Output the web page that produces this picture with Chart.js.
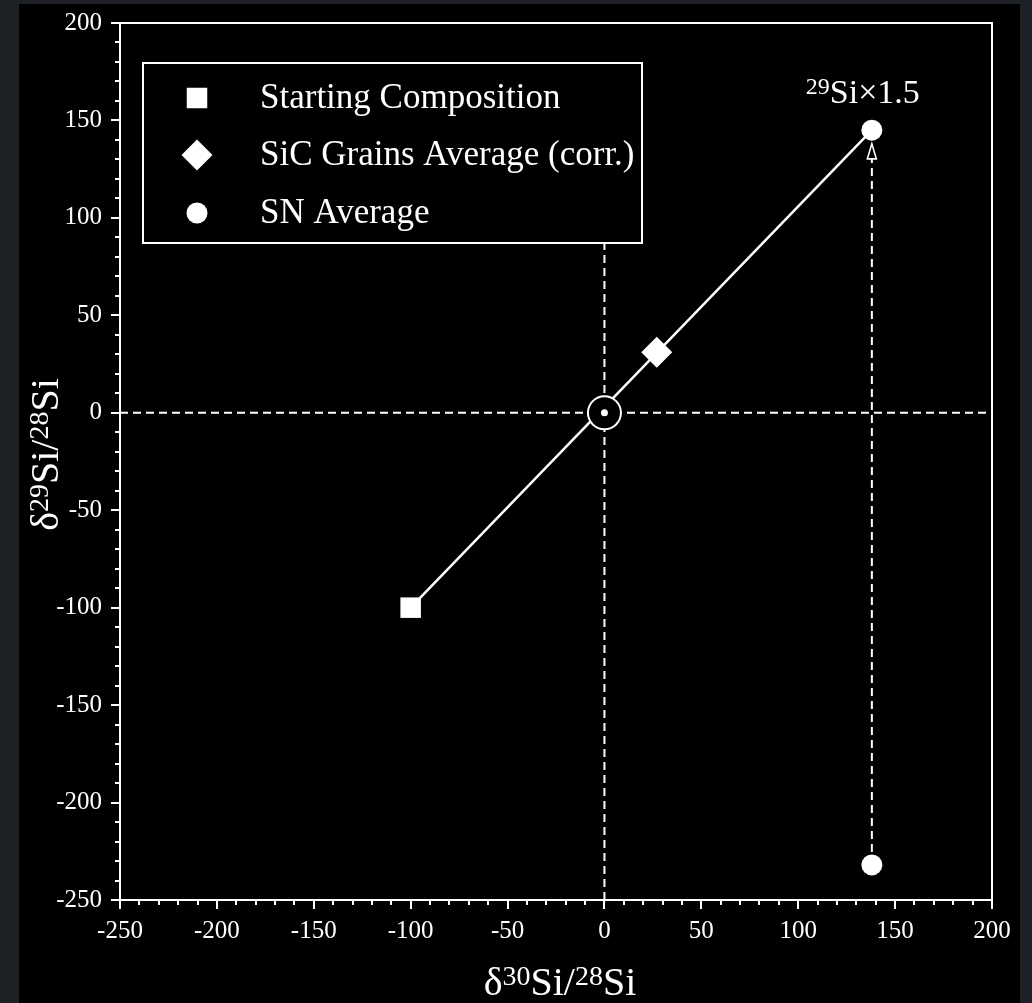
<!DOCTYPE html>
<html>
<head>
<meta charset="utf-8">
<script src="https://cdn.jsdelivr.net/npm/chart.js@4.4.1/dist/chart.umd.min.js"></script>
<style>
  html, body { margin: 0; padding: 0; background: #1e2227; overflow: hidden; }
  #frame { position: absolute; left: 19px; top: 4px; width: 1001px; height: 999px; background: #000; }
  #wrap { position: absolute; left: 0; top: -10px; width: 1032px; height: 1013px; }
</style>
</head>
<body>
<div id="frame"></div>
<div id="wrap"><canvas id="chart" width="1032" height="1013"></canvas></div>
<script>
// data (delta values, per mil)
const seriesNames = ['Starting Composition', 'SiC Grains Average (corr.)', 'SN Average'];
const startingPt = [-100, -100];
const sicPt = [27, 31];
const snPts = [[138, 145], [138, -232]];
const originPt = [0, 0];
const mixLine = [[-100, -100], [138, 145]];
const zeroLineH = [[-250, 0], [200, 0]];
const zeroLineV = [[0, -250], [0, 87]];
const snDropLine = [[138, -232], [138, 131]];
const arrowTip = [138, 138];
const axisMin = -250, axisMax = 200, majorStep = 50, minorStep = 10;
const snLabel = { sup: '29', text: 'Si\u00d71.5', at: [138, 159] };

const FONT = "'Liberation Serif', 'Times New Roman', serif";
const WHITE = '#ffffff';

const pts = arr => arr.map(p => ({ x: p[0], y: p[1] }));

// text with superscript pieces, parts = [[str, isSup], ...]
function drawSupText(ctx, parts, x, y, size, align) {
    const supSize = Math.round(size * 0.7);
    let total = 0;
    const widths = parts.map(p => {
        ctx.font = (p[1] ? supSize : size) + 'px ' + FONT;
        const w = ctx.measureText(p[0]).width;
        total += w;
        return w;
    });
    let cx = align === 'center' ? x - total / 2 : x;
    ctx.textAlign = 'left';
    ctx.textBaseline = 'alphabetic';
    parts.forEach((p, i) => {
        ctx.font = (p[1] ? supSize : size) + 'px ' + FONT;
        ctx.fillText(p[0], cx, p[1] ? y - size * 0.26 : y);
        cx += widths[i];
    });
}

const decorPlugin = {
    id: 'decor',
    afterDatasetsDraw(chart) {
        const ctx = chart.ctx;
        const a = chart.chartArea;
        const xs = chart.scales.x, ys = chart.scales.y;
        ctx.save();
        ctx.strokeStyle = WHITE;
        ctx.fillStyle = WHITE;
        ctx.lineWidth = 2;

        // frame
        ctx.strokeRect(a.left, a.top, a.right - a.left, a.bottom - a.top);

        // ticks, major and minor, outward
        ctx.beginPath();
        for (let v = axisMin; v <= axisMax; v += minorStep) {
            const len = v % majorStep === 0 ? 9 : 5;
            const px = Math.round(xs.getPixelForValue(v));
            ctx.moveTo(px, a.bottom);
            ctx.lineTo(px, a.bottom + len);
            const py = Math.round(ys.getPixelForValue(v));
            ctx.moveTo(a.left, py);
            ctx.lineTo(a.left - len, py);
        }
        ctx.stroke();

        // open arrow head on the SN drop line
        const tx = xs.getPixelForValue(arrowTip[0]);
        const ty = ys.getPixelForValue(arrowTip[1]);
        ctx.beginPath();
        ctx.moveTo(tx, ty);
        ctx.lineTo(tx - 4.5, ty + 15);
        ctx.lineTo(tx + 4.5, ty + 15);
        ctx.closePath();
        ctx.fillStyle = '#000';
        ctx.fill();
        ctx.lineWidth = 1.6;
        ctx.stroke();
        ctx.fillStyle = WHITE;

        // label above SN point
        drawSupText(ctx, [[snLabel.sup, true], [snLabel.text, false]],
            xs.getPixelForValue(snLabel.at[0]) - 9, ys.getPixelForValue(snLabel.at[1]), 34, 'center');

        // legend box
        const bx = a.left + 23, by = a.top + 40, bw = 499, bh = 180;
        ctx.lineWidth = 2;
        ctx.fillStyle = '#000';
        ctx.fillRect(bx, by, bw, bh);
        ctx.strokeRect(bx, by, bw, bh);
        ctx.fillStyle = WHITE;
        const rows = [35, 92, 150];
        [0, 1, 2].forEach((i) => {
            const ds = chart.data.datasets[i];
            const my = by + rows[i];
            Chart.helpers.drawPoint(ctx, {
                pointStyle: ds.pointStyle, radius: ds.pointRadius, rotation: 0, borderWidth: 0
            }, bx + 54, my);
            ctx.font = '35px ' + FONT;
            ctx.textAlign = 'left';
            ctx.textBaseline = 'alphabetic';
            ctx.fillText(ds.label, bx + 117, my + 10);
        });

        // axis titles
        drawSupText(ctx, [['\u03b4', false], ['30', true], ['Si/', false], ['28', true], ['Si', false]],
            (a.left + a.right) / 2 + 4, a.bottom + 95, 40, 'center');
        ctx.translate(58, (a.top + a.bottom) / 2 - 7);
        ctx.rotate(-Math.PI / 2);
        drawSupText(ctx, [['\u03b4', false], ['29', true], ['Si/', false], ['28', true], ['Si', false]],
            0, 0, 40, 'center');
        ctx.restore();
    }
};

const axisOpts = (fit) => ({
    type: 'linear',
    min: axisMin,
    max: axisMax,
    grid: { display: false, drawTicks: false },
    border: { display: false },
    ticks: {
        stepSize: majorStep,
        color: WHITE,
        font: { family: FONT, size: 25 },
        padding: 18
    },
    afterFit: fit
});

const xAxis = axisOpts(s => { s.height = 103; });
xAxis.ticks.padding = 16;
const yAxis = axisOpts(s => { s.width = 120; });

const lineDs = (label, data, dash, width, order) => ({
    label, data: pts(data), showLine: true, pointRadius: 0,
    borderColor: WHITE, borderWidth: width, borderDash: dash, order
});

new Chart(document.getElementById('chart'), {
    type: 'scatter',
    data: {
        datasets: [
            { label: seriesNames[0], data: pts([startingPt]), pointStyle: 'rect', pointRadius: 14.5,
              backgroundColor: WHITE, borderColor: WHITE, borderWidth: 0, order: 2 },
            { label: seriesNames[1], data: pts([sicPt]), pointStyle: 'rectRot', pointRadius: 15.5,
              backgroundColor: WHITE, borderColor: WHITE, borderWidth: 0, order: 2 },
            { label: seriesNames[2], data: pts(snPts), pointStyle: 'circle', pointRadius: 10.5,
              backgroundColor: WHITE, borderColor: WHITE, borderWidth: 0, order: 2 },
            { label: 'origin', data: pts([originPt]), pointStyle: 'circle', pointRadius: 16.5,
              backgroundColor: '#000', borderColor: WHITE, borderWidth: 2, order: 1 },
            { label: 'origin dot', data: pts([originPt]), pointStyle: 'circle', pointRadius: 3.5,
              backgroundColor: WHITE, borderColor: WHITE, borderWidth: 0, order: 0 },
            lineDs('mixing line', mixLine, [], 2.5, 5),
            lineDs('zero h', zeroLineH, [8, 5], 2, 6),
            lineDs('zero v', zeroLineV, [8, 5], 2, 6),
            lineDs('SN drop', snDropLine, [8, 5], 2, 6)
        ]
    },
    options: {
        responsive: false,
        animation: false,
        layout: { padding: { top: 13, right: 40, bottom: 0, left: 0 } },
        plugins: {
            legend: { display: false },
            tooltip: { enabled: false }
        },
        scales: { x: xAxis, y: yAxis }
    },
    plugins: [decorPlugin]
});
</script>
</body>
</html>
